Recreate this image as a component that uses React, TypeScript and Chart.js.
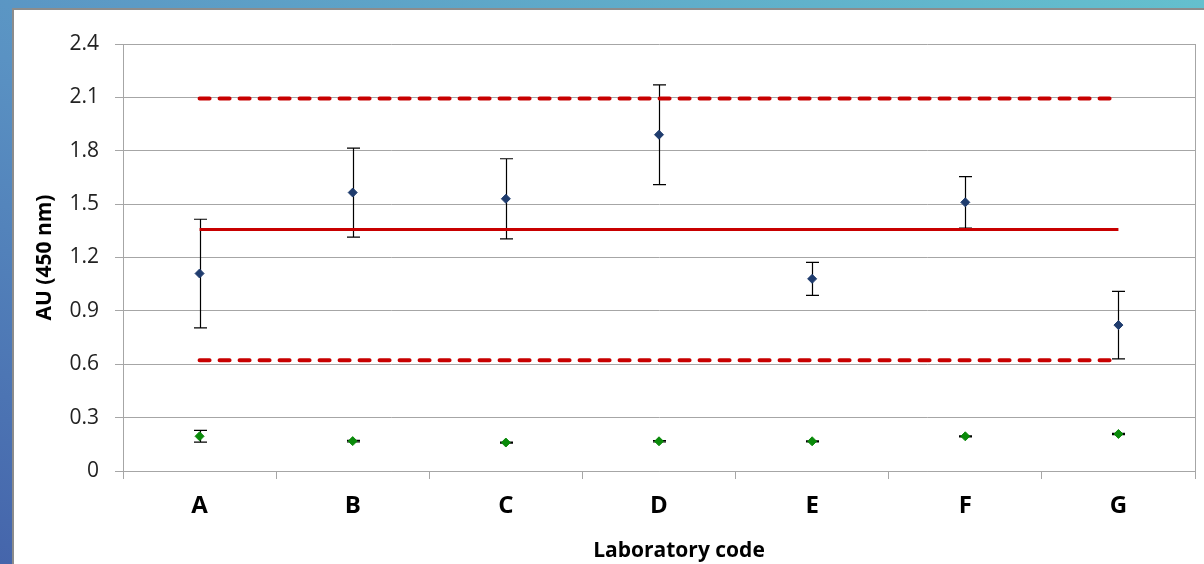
import React, { useEffect, useRef } from 'react';
import { Chart, registerables } from 'chart.js';

Chart.register(...registerables);

// ---- data ----
const categories = ['A', 'B', 'C', 'D', 'E', 'F', 'G'];
const sampleMeans = [1.11, 1.565, 1.53, 1.89, 1.08, 1.51, 0.82];
const sampleErrors = [0.305, 0.25, 0.225, 0.28, 0.093, 0.145, 0.19];
const blankMeans = [0.195, 0.168, 0.16, 0.167, 0.167, 0.195, 0.208];
const blankErrors = [0.033, 0.004, 0.003, 0.004, 0.003, 0.003, 0.003];
const upperLimit = [2.093, 2.093, 2.093, 2.093, 2.093, 2.093, 2.093];
const overallMean = [1.358, 1.358, 1.358, 1.358, 1.358, 1.358, 1.358];
const lowerLimit = [0.622, 0.622, 0.622, 0.622, 0.622, 0.622, 0.622];
const yTickLabels = ['0', '0.3', '0.6', '0.9', '1.2', '1.5', '1.8', '2.1', '2.4'];
const xAxisTitle = 'Laboratory code';
const yAxisTitle = 'AU (450 nm)';

const FONT = "'Open Sans', 'Liberation Sans', sans-serif";
const GRID = '#a6a6a6';

const errorBarPlugin = {
  id: 'errorBars',
  beforeDatasetsDraw(chart: any) {
    const { ctx, chartArea } = chart;
    const xs = chart.scales.x;
    const ys = chart.scales.y;
    // plot-area right border
    ctx.save();
    ctx.strokeStyle = GRID;
    ctx.lineWidth = 1;
    ctx.beginPath();
    ctx.moveTo(Math.round(chartArea.right) + 0.5, chartArea.top);
    ctx.lineTo(Math.round(chartArea.right) + 0.5, chartArea.bottom);
    ctx.stroke();
    ctx.restore();

    chart.data.datasets.forEach((ds: any) => {
      const errs: number[] | undefined = ds.errors;
      if (!errs) return;
      ctx.save();
      ctx.strokeStyle = '#000000';
      ctx.lineWidth = 1.2;
      ds.data.forEach((v: number, j: number) => {
        const px = Math.round(xs.getPixelForValue(j)) + 0.5;
        const top = ys.getPixelForValue(v + errs[j]);
        const bot = ys.getPixelForValue(v - errs[j]);
        ctx.beginPath();
        ctx.moveTo(px, top);
        ctx.lineTo(px, bot);
        ctx.moveTo(px - 6.5, top);
        ctx.lineTo(px + 6.5, top);
        ctx.moveTo(px - 6.5, bot);
        ctx.lineTo(px + 6.5, bot);
        ctx.stroke();
      });
      ctx.restore();
    });
  },
  afterDraw(chart: any) {
    const { ctx } = chart;
    ctx.save();
    ctx.font = `bold 21px ${FONT}`;
    ctx.fillStyle = '#000000';
    ctx.textAlign = 'center';
    ctx.textBaseline = 'alphabetic';
    ctx.fillText(xAxisTitle, 679, 556.5);
    ctx.restore();
  },
};

export default function App() {
  const canvasRef = useRef<HTMLCanvasElement | null>(null);

  useEffect(() => {
    if (!canvasRef.current) return;
    const chart = new Chart(canvasRef.current, {
      type: 'line',
      data: {
        labels: categories,
        datasets: [
          {
            label: 'Sample',
            data: sampleMeans,
            errors: sampleErrors,
            showLine: false,
            pointStyle: 'rectRot',
            pointRadius: 4.5,
            pointBorderWidth: 1,
            backgroundColor: '#1f3c6e',
            borderColor: '#1f3c6e',
          } as any,
          {
            label: 'Blank',
            data: blankMeans,
            errors: blankErrors,
            showLine: false,
            pointStyle: 'rectRot',
            pointRadius: 4.5,
            pointBorderWidth: 1,
            backgroundColor: '#0a8a0a',
            borderColor: '#0a8a0a',
          } as any,
          {
            label: 'Mean',
            data: overallMean,
            borderColor: '#c80000',
            borderWidth: 3,
            pointRadius: 0,
            fill: false,
          },
          {
            label: 'Upper limit',
            data: upperLimit,
            borderColor: '#c80000',
            borderWidth: 4,
            borderDash: [10, 10],
            borderCapStyle: 'round',
            pointRadius: 0,
            fill: false,
          },
          {
            label: 'Lower limit',
            data: lowerLimit,
            borderColor: '#c80000',
            borderWidth: 4,
            borderDash: [10, 10],
            borderCapStyle: 'round',
            pointRadius: 0,
            fill: false,
          },
        ],
      },
      options: {
        responsive: false,
        animation: false,
        devicePixelRatio: 1,
        layout: { padding: { left: 14, right: 9, top: 44, bottom: 0 } },
        plugins: {
          legend: { display: false },
          tooltip: { enabled: false },
        },
        scales: {
          x: {
            type: 'category',
            offset: true,
            afterFit: (scale: any) => {
              scale.height = 93;
            },
            grid: {
              offset: true,
              drawOnChartArea: false,
              drawTicks: true,
              tickLength: 8,
              color: GRID,
            },
            border: { display: true, color: GRID },
            ticks: {
              padding: 13,
              color: '#000000',
              font: { family: FONT, size: 24, weight: 'bold' },
            },
          },
          y: {
            min: 0,
            max: 2.4,
            afterFit: (scale: any) => {
              scale.width = 109;
            },
            ticks: {
              stepSize: 0.3,
              padding: 16,
              color: '#222222',
              font: { family: FONT, size: 21 },
              callback: (_v: any, i: number) => yTickLabels[i],
            },
            grid: {
              color: GRID,
              drawTicks: true,
              tickLength: 8,
            },
            border: { display: true, color: GRID },
            title: {
              display: true,
              text: yAxisTitle,
              color: '#000000',
              font: { family: FONT, size: 21, weight: 'bold' },
              padding: { top: 18, bottom: 0 },
            },
          },
        },
      } as any,
      plugins: [errorBarPlugin],
    });
    return () => chart.destroy();
  }, []);

  return (
    <div
      style={{
        position: 'fixed',
        left: 0,
        top: 0,
        width: 1204,
        height: 564,
        background: 'linear-gradient(to top right, #4565ab 0%, #5a92c3 45%, #64c0ce 100%)',
        overflow: 'hidden',
      }}
    >
      <div
        style={{
          position: 'absolute',
          left: 12,
          top: 8,
          right: 0,
          bottom: 0,
          background: '#ffffff',
          borderLeft: '2px solid #8c8c8c',
          borderTop: '2px solid #8c8c8c',
        }}
      />
      <canvas
        ref={canvasRef}
        width={1204}
        height={564}
        style={{ position: 'absolute', left: 0, top: 0, width: 1204, height: 564 }}
      />
    </div>
  );
}
